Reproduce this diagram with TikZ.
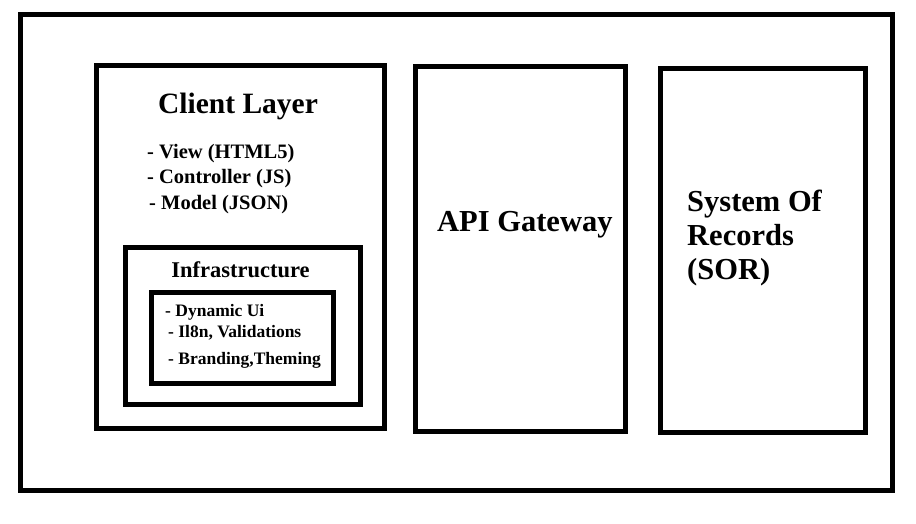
\documentclass[tikz,border=0pt]{standalone}
\usepackage{fontspec}
\setmainfont{Liberation Serif}
\usepackage{tikz}

\tikzset{
  box/.style={draw=black, line width=5pt, inner sep=0pt},
  lbl/.style={inner sep=0pt, anchor=west, font=\bfseries}
}

\begin{document}
\begin{tikzpicture}[x=1pt,y=-1pt]
				\useasboundingbox (0,0) rectangle (916,524);
				\node[box, minimum width=872pt, minimum height=475pt] (frame) at (456,252.5) {};
				\node[box, minimum width=288pt, minimum height=362pt] (client) at (240,247) {};
				\node[box, minimum width=235pt, minimum height=157pt] (infra) at (242.5,325.5) {};
				\node[box, minimum width=182pt, minimum height=91pt] (inner) at (242,337.5) {};
				\node[box, minimum width=210pt, minimum height=364pt] (api) at (520,249) {};
				\node[box, minimum width=205pt, minimum height=363pt] (sor) at (762.5,250.5) {};
				\node[lbl, anchor=center, font=\bfseries\fontsize{29.5}{34}\selectfont] (clientT) at (238,106) {Client Layer};
				\node[lbl, font=\bfseries\fontsize{20.5}{24}\selectfont] (view) at (147,154) {- View (HTML5)};
				\node[lbl, font=\bfseries\fontsize{20.5}{24}\selectfont] (ctrl) at (147,179) {- Controller (JS)};
				\node[lbl, font=\bfseries\fontsize{20.5}{24}\selectfont] (model) at (149,205) {- Model (JSON)};
				\node[lbl, anchor=center, font=\bfseries\fontsize{22.5}{26}\selectfont] (infraT) at (240.5,270) {Infrastructure};
				\node[lbl, font=\bfseries\fontsize{17.5}{21}\selectfont] (dyn) at (165,312) {- Dynamic Ui};
				\node[lbl, font=\bfseries\fontsize{17.5}{21}\selectfont] (i18n) at (168,333) {- Il8n, Validations};
				\node[lbl, font=\bfseries\fontsize{17.5}{21}\selectfont] (brand) at (168,360) {- Branding,Theming};
				\node[lbl, font=\bfseries\fontsize{30.5}{34}\selectfont] (apiT) at (437,225) {API Gateway};
				\node[lbl, anchor=north west, align=left, font=\bfseries\fontsize{30.5}{34}\selectfont] (sorT) at (687,190) {System Of\\Records\\(SOR)};
			\end{tikzpicture}
\end{document}
